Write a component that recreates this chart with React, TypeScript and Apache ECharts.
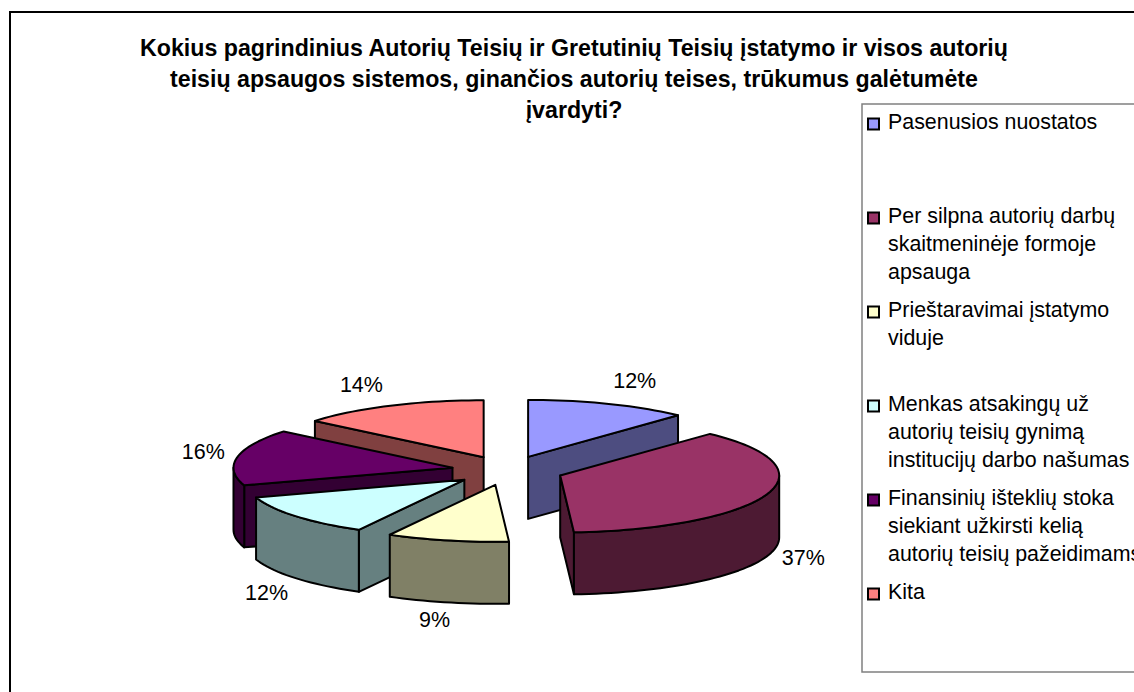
import React, { useEffect, useRef } from "react";
import * as echarts from "echarts";

const titleLines = [
  "Kokius pagrindinius Autorių Teisių ir Gretutinių Teisių įstatymo ir visos autorių",
  "teisių apsaugos sistemos, ginančios autorių teises, trūkumus galėtumėte",
  "įvardyti?",
];
const categories = [
  "Pasenusios nuostatos",
  "Per silpna autorių darbų\nskaitmeninėje formoje\napsauga",
  "Prieštaravimai įstatymo\nviduje",
  "Menkas atsakingų už\nautorių teisių gynimą\ninstitucijų darbo našumas",
  "Finansinių išteklių stoka\nsiekiant užkirsti kelią\nautorių teisių pažeidimams",
  "Kita",
];
const values = [12, 37, 9, 12, 16, 14];
const topColors = ["#9999FF", "#993366", "#FFFFCC", "#CCFFFF", "#660066", "#FF8080"];
const wallColors = ["#4D4D80", "#4D1A33", "#808066", "#668080", "#330033", "#804040"];

// layout of the pseudo-3D pie
const CX = 507.5;
const CY = 470.5;
const RX = 219;
const RY = 57;
const DEPTH = 62;
const EXPLODE = 56 / 218;
const labelOffsets = [
  [26, -23],
  [37, 1],
  [-13, 18],
  [-29, 15],
  [-34, -5],
  [-29, -21],
];
const legendRowY = [124, 218, 312, 406, 500, 594];

const total = values.reduce((a, b) => a + b, 0);
const rad = (d: number) => (d * Math.PI) / 180;

function sliceGeom(i: number) {
  const before = values.slice(0, i).reduce((a, b) => a + b, 0);
  const start = (before / total) * 360;
  const end = ((before + values[i]) / total) * 360;
  const mid = (start + end) / 2;
  const ax = CX + 218 * EXPLODE * Math.sin(rad(mid));
  const ay = CY - RY * EXPLODE * Math.cos(rad(mid));
  const rim = (deg: number, dz = 0): number[] => [
    ax + RX * Math.sin(rad(deg)),
    ay - RY * Math.cos(rad(deg)) + dz,
  ];
  return { start, end, mid, ax, ay, rim };
}

function arc(from: number, to: number, dz: number, rim: (d: number, z?: number) => number[]) {
  const pts: number[][] = [];
  const n = Math.max(2, Math.ceil(Math.abs(to - from) / 2));
  for (let k = 0; k <= n; k++) pts.push(rim(from + ((to - from) * k) / n, dz));
  return pts;
}

const stroke = { stroke: "#000", lineWidth: 2, lineJoin: "round" };

function renderSlice(_: any, api: any) {
  const i = api.value(1) as number;
  const { start, end, mid, ax, ay, rim } = sliceGeom(i);
  const children: any[] = [];
  const poly = (points: number[][], fill: string) => ({
    type: "polygon",
    shape: { points },
    style: { fill, ...stroke },
  });
  // radial side walls that face the viewer
  const radial = (deg: number) =>
    poly(
      [[ax, ay], rim(deg), rim(deg, DEPTH), [ax, ay + DEPTH]],
      wallColors[i],
    );
  if (Math.cos(rad(start - 90)) < -1e-6) children.push(radial(start));
  if (Math.cos(rad(end + 90)) < -1e-6) children.push(radial(end));
  // outer wall
  const a0 = Math.max(start, 90);
  const a1 = Math.min(end, 270);
  if (a1 > a0) {
    children.push(
      poly([...arc(a0, a1, 0, rim), ...arc(a1, a0, DEPTH, rim)], wallColors[i]),
    );
  }
  // top face
  children.push(poly([[ax, ay], ...arc(start, end, 0, rim)], topColors[i]));
  // percentage label
  const front = Math.cos(rad(mid)) < 0 && Math.abs(Math.sin(rad(mid))) < 0.96;
  const edge = rim(mid, front || i === 1 ? DEPTH : 0);
  children.push({
    type: "text",
    style: {
      text: `${values[i]}%`,
      x: edge[0] + labelOffsets[i][0],
      y: edge[1] + labelOffsets[i][1],
      fill: "#000",
      font: '21.5px "Liberation Sans", Arial, sans-serif',
      align: "center",
      verticalAlign: "middle",
    },
  });
  return { type: "group", children };
}

export default function App() {
  const ref = useRef<HTMLDivElement>(null);
  useEffect(() => {
    const chart = echarts.init(ref.current!, undefined, { renderer: "svg" });
    const order = values
      .map((_, i) => i)
      .sort((p, q) => -Math.cos(rad(sliceGeom(p).mid)) + Math.cos(rad(sliceGeom(q).mid)));

    const legendGraphics: any[] = [];
    categories.forEach((name, i) => {
      legendGraphics.push({
        type: "rect",
        shape: { x: 868, y: legendRowY[i] - 5.5, width: 11, height: 11 },
        style: { fill: topColors[i], stroke: "#000", lineWidth: 2 },
      });
      name.split("\n").forEach((line, k) => {
        legendGraphics.push({
          type: "text",
          style: {
            text: line,
            x: 888,
            y: legendRowY[i] - 2 + k * 28.2,
            fill: "#000",
            font: '21.4px "Liberation Sans", Arial, sans-serif',
            textAlign: "left",
            textVerticalAlign: "middle",
          },
        });
      });
    });

    chart.setOption({
      animation: false,
      backgroundColor: "#fff",
      title: {
        text: titleLines.join("\n"),
        left: 569,
        top: 27,
        textAlign: "center",
        textStyle: {
          fontFamily: '"Liberation Sans", Arial, sans-serif',
          fontWeight: "bold",
          fontSize: 23.2,
          lineHeight: 31,
          color: "#000",
        },
      },
      graphic: [
        {
          type: "polyline",
          shape: { points: [[10, 692], [10, 12], [1134, 12]] },
          style: { fill: "none", stroke: "#000", lineWidth: 2 },
        },
        {
          type: "polyline",
          shape: { points: [[1134, 104], [862, 104], [862, 672], [1134, 672]] },
          style: { fill: "none", stroke: "#808080", lineWidth: 1.5 },
        },
        ...legendGraphics,
      ],
      series: [
        {
          type: "custom",
          coordinateSystem: "none",
          silent: true,
          clip: false,
          renderItem: renderSlice,
          encode: { value: 0 },
          data: order.map((i) => [values[i], i]),
        },
      ],
    });
    return () => chart.dispose();
  }, []);
  return (
    <div
      ref={ref}
      style={{ position: "fixed", left: 0, top: 0, width: 1134, height: 692, overflow: "hidden" }}
    />
  );
}
